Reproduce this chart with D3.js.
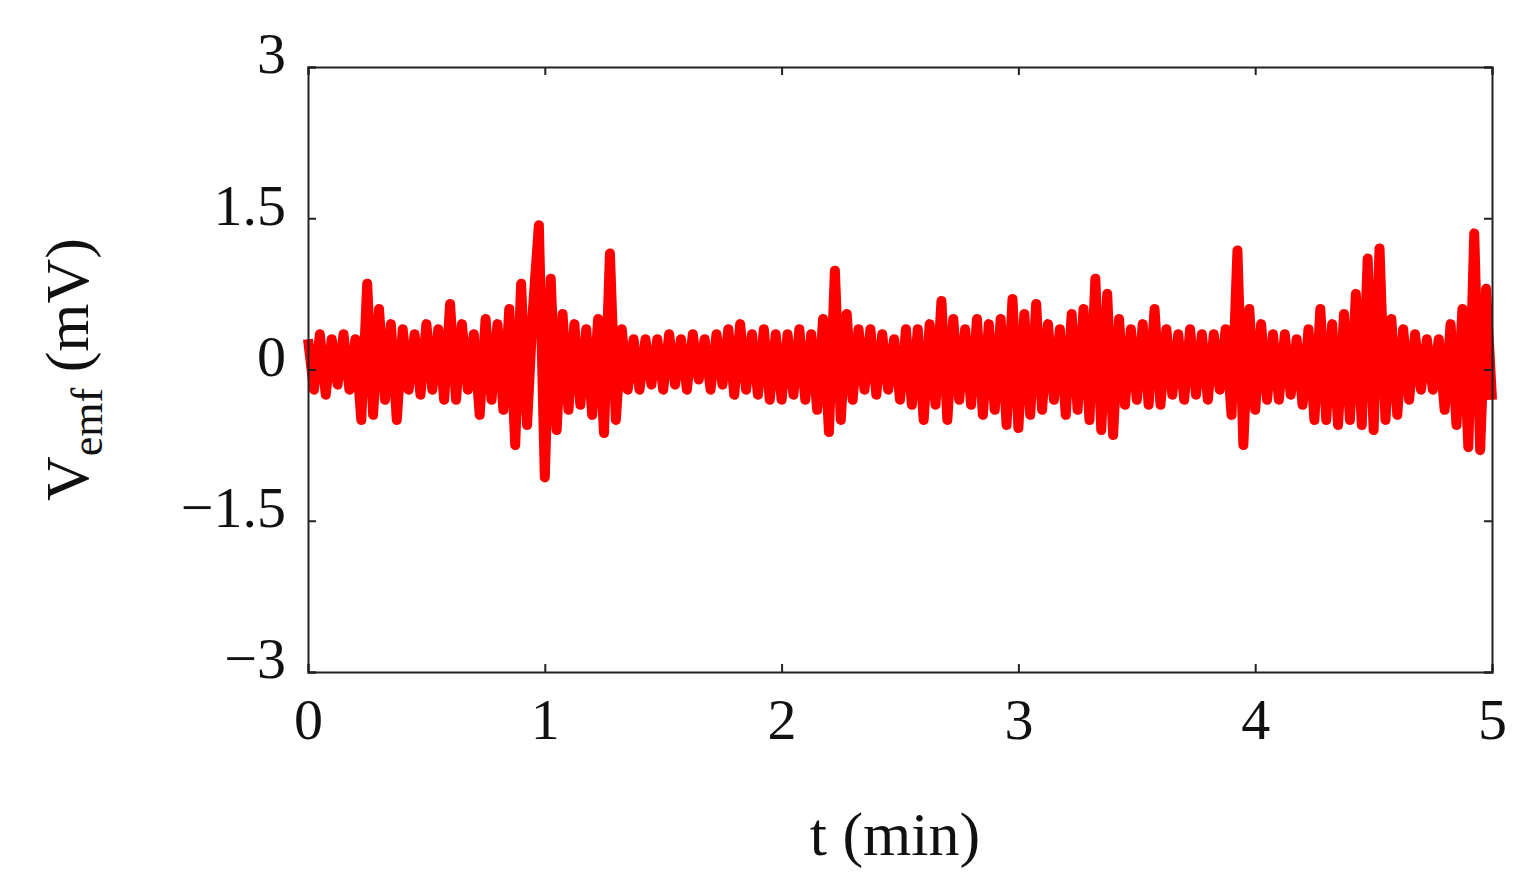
<!DOCTYPE html>
<html>
<head>
<meta charset="utf-8">
<script src="https://cdn.jsdelivr.net/npm/d3@7"></script>
<style>
body { margin: 0; background: #fff; }
text { font-family: "Liberation Serif", "DejaVu Serif", serif; fill: #111; }
</style>
</head>
<body>
<svg width="1532" height="892"></svg>
<script>
const tStep = 0.025;   // sampling step of the hand-read trace (min)
const vEmf = [
  0.3,-0.2,0.35,-0.25,0.3,-0.15,0.35,-0.2,0.3,-0.5,
  0.85,-0.45,0.6,-0.3,0.45,-0.5,0.4,-0.2,0.35,-0.25,
  0.45,-0.2,0.4,-0.3,0.65,-0.3,0.45,-0.2,0.35,-0.45,
  0.5,-0.3,0.45,-0.4,0.6,-0.75,0.85,-0.55,0.6,1.43,
  -1.07,0.9,-0.6,0.55,-0.4,0.45,-0.35,0.4,-0.45,0.5,
  -0.63,1.15,-0.5,0.4,-0.2,0.3,-0.2,0.3,-0.15,0.3,
  -0.2,0.35,-0.15,0.3,-0.2,0.35,-0.1,0.3,-0.2,0.35,
  -0.15,0.4,-0.25,0.45,-0.2,0.35,-0.25,0.4,-0.3,0.35,
  -0.3,0.35,-0.25,0.4,-0.3,0.35,-0.4,0.5,-0.62,0.98,
  -0.5,0.55,-0.3,0.4,-0.2,0.4,-0.25,0.35,-0.2,0.3,
  -0.3,0.4,-0.35,0.4,-0.5,0.45,-0.35,0.68,-0.5,0.5,
  -0.3,0.4,-0.35,0.5,-0.45,0.45,-0.4,0.5,-0.55,0.7,
  -0.58,0.55,-0.45,0.65,-0.4,0.45,-0.3,0.4,-0.45,0.55,
  -0.4,0.6,-0.5,0.9,-0.6,0.75,-0.65,0.5,-0.35,0.4,
  -0.3,0.45,-0.35,0.6,-0.35,0.4,-0.25,0.35,-0.3,0.4,
  -0.25,0.35,-0.3,0.35,-0.2,0.4,-0.45,1.18,-0.75,0.6,
  -0.4,0.45,-0.3,0.35,-0.3,0.35,-0.25,0.3,-0.35,0.4,
  -0.5,0.6,-0.5,0.45,-0.55,0.55,-0.5,0.75,-0.55,1.1,
  -0.6,1.2,-0.5,0.5,-0.45,0.4,-0.3,0.35,-0.2,0.3,
  -0.2,0.3,-0.4,0.45,-0.55,0.6,-0.77,1.35,-0.8,0.8,
  -0.3
];
const xTicks = [0, 1, 2, 3, 4, 5];
const yTicks = [-3, -1.5, 0, 1.5, 3];

const svg = d3.select("svg");
const mLeft = 308, mRight = 1492, mTop = 67, mBottom = 672;

const x = d3.scaleLinear().domain([0, 5]).range([mLeft, mRight]);
const y = d3.scaleLinear().domain([-3, 3]).range([mBottom, mTop]);

// signal
svg.append("path")
  .datum(vEmf)
  .attr("fill", "none")
  .attr("stroke", "#ff0000")
  .attr("stroke-width", 10)
  .attr("stroke-linejoin", "round")
  .attr("d", d3.line().x((d, i) => x(i * tStep)).y(d => y(d)));

// axes, ticks pointing inward
const fmt = d => d < 0 ? "\u2212" + Math.abs(d) : String(d);

const xAxis = svg.append("g")
  .attr("transform", `translate(0,${mBottom})`)
  .call(d3.axisBottom(x).tickValues(xTicks).tickSize(-8).tickPadding(26).tickFormat(fmt));
xAxis.selectAll("text").attr("font-size", 58).attr("dy", "0.71em");

svg.append("g")
  .attr("transform", `translate(0,${mTop})`)
  .call(d3.axisTop(x).tickValues(xTicks).tickSize(-8).tickFormat(""));

const yAxis = svg.append("g")
  .attr("transform", `translate(${mLeft},0)`)
  .call(d3.axisLeft(y).tickValues(yTicks).tickSize(-8).tickPadding(22).tickFormat(fmt));
yAxis.selectAll("text").attr("font-size", 58).attr("dy", "0.1em");

svg.append("g")
  .attr("transform", `translate(${mRight},0)`)
  .call(d3.axisRight(y).tickValues(yTicks).tickSize(-8).tickFormat(""));

svg.selectAll(".domain").attr("stroke", "#222").attr("stroke-width", 2);
svg.selectAll(".tick line").attr("stroke", "#222").attr("stroke-width", 2);

// labels
svg.append("text")
  .attr("x", (mLeft + mRight) / 2 - 5).attr("y", 855)
  .attr("text-anchor", "middle").attr("font-size", 62)
  .text("t (min)");

const yl = svg.append("text")
  .attr("transform", `translate(88,${(mTop + mBottom) / 2}) rotate(-90)`)
  .attr("text-anchor", "middle").attr("font-size", 62);
yl.append("tspan").text("V");
yl.append("tspan").attr("font-size", 44).attr("dy", 14).text("emf");
yl.append("tspan").attr("dy", -14).text(" (mV)");
</script>
</body>
</html>
